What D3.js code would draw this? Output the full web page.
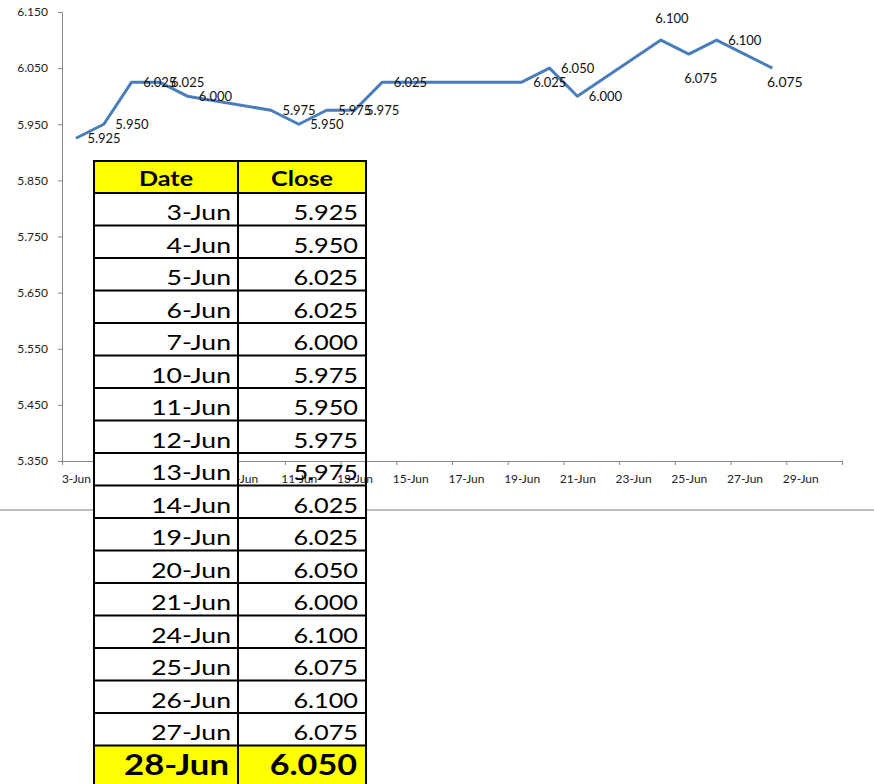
<!DOCTYPE html>
<html>
<head>
<meta charset="utf-8">
<script src="https://cdn.jsdelivr.net/npm/d3@7"></script>
<style>
	body { margin: 0; background: #fff; }
	svg { display: block; font-family: Lato, "Open Sans", sans-serif; }
</style>
</head>
<body>
<script>
// Closing prices, one per trading day in June
var dates = ["3-Jun", "4-Jun", "5-Jun", "6-Jun", "7-Jun", "10-Jun", "11-Jun", "12-Jun", "13-Jun",
	"14-Jun", "19-Jun", "20-Jun", "21-Jun", "24-Jun", "25-Jun", "26-Jun", "27-Jun", "28-Jun"];
var closes = [5.925, 5.950, 6.025, 6.025, 6.000, 5.975, 5.950, 5.975, 5.975,
	6.025, 6.025, 6.050, 6.000, 6.100, 6.075, 6.100, 6.075, 6.050];
// labels as printed next to the points (27-Jun has none)
var pointLabels = ["5.925", "5.950", "6.025", "6.025", "6.000", "5.975", "5.950", "5.975", "5.975",
	"6.025", "6.025", "6.050", "6.000", "6.100", "6.075", "6.100", "", "6.075"];
var labelSpots = ["right", "right", "right", "right", "right", "right", "right", "right", "right",
	"right", "right", "right", "right", "above", "below", "right", "none", "under"];
var yTicks = [5.350, 5.450, 5.550, 5.650, 5.750, 5.850, 5.950, 6.050, 6.150];
var xTickLabels = ["3-Jun", "5-Jun", "7-Jun", "9-Jun", "11-Jun", "13-Jun", "15-Jun",
	"17-Jun", "19-Jun", "21-Jun", "23-Jun", "25-Jun", "27-Jun", "29-Jun"];
var headers = ["Date", "Close"];

var width = 874;
var height = 784;
var parseDay = d3.timeParse("%d-%b-%Y");
function toDate(s) { return parseDay(s + "-2013"); }

var svg = d3.select("body")
			.append("svg")
			.attr("width", width)
			.attr("height", height);

var x = d3.scaleTime()
			.domain([d3.timeHour.offset(toDate("3-Jun"), -12), d3.timeHour.offset(toDate("30-Jun"), 12)])
			.range([62, 842]);
var y = d3.scaleLinear()
			.domain([5.35, 6.15])
			.range([461, 12]);

var points = dates.map(function(d, i) {
	return { date: toDate(d), close: closes[i], label: pointLabels[i], spot: labelSpots[i] };
});

// sheet border line sits under everything
svg.append("line")
		.attr("x1", 0).attr("x2", width)
		.attr("y1", 510).attr("y2", 510)
		.attr("stroke", "#a6a6a6")
		.attr("stroke-width", 1.5);

var cols = [94, 238, 366];
var headerTop = 161, headerH = 32, rowH = 32.5, lastH = 42;
function rowTop(i) { return headerTop + headerH + i * rowH; }
function rowHeight(i) { return i == dates.length - 1 ? lastH : rowH; }
var yellow = "#ffff00";

// Close column cells lie below the chart
svg.append("rect")
		.attr("x", cols[1]).attr("y", headerTop)
		.attr("width", cols[2] - cols[1]).attr("height", rowTop(dates.length - 1) + lastH - headerTop)
		.attr("fill", "#fff");

// ---- chart ----
var chart = svg.append("g");

// major ticks fall between days, every 2 days
var tickDates = d3.range(0, 15).map(function(k) { return d3.timeHour.offset(x.domain()[0], 48 * k); });
chart.append("g")
		.attr("transform", "translate(0,461)")
		.call(d3.axisBottom(x).tickValues(tickDates).tickSize(4).tickFormat(""));
var xLabels = chart.append("g")
		.attr("transform", "translate(0,461)")
		.call(d3.axisBottom(x).tickValues(xTickLabels.map(toDate)).tickSize(0).tickPadding(13)
			.tickFormat(function(d, i) { return xTickLabels[i]; }));
xLabels.select(".domain").remove();

chart.append("g")
		.attr("transform", "translate(62,0)")
		.call(d3.axisLeft(y).tickValues(yTicks).tickSize(4).tickPadding(10).tickFormat(d3.format(".3f")));

chart.selectAll(".domain, .tick line").attr("stroke", "#868686");
chart.selectAll(".tick text")
		.attr("fill", "#222")
		.attr("font-family", "Lato, sans-serif")
		.attr("font-size", 12);

var line = d3.line()
		.x(function(d) { return x(d.date); })
		.y(function(d) { return y(d.close); });

chart.append("path")
		.datum(points)
		.attr("d", line)
		.attr("fill", "none")
		.attr("stroke", "#4a7ebb")
		.attr("stroke-width", 3)
		.attr("stroke-linejoin", "round");

// offsets for each label placement: dx, dy, anchor, size
var spotStyle = {
	right: [11.5, 0, "start", 13],
	above: [11, -22, "middle", 13],
	below: [12, 24, "middle", 13],
	under: [12.5, 14, "middle", 14]
};
chart.selectAll(".point-label")
		.data(points.filter(function(d) { return d.spot != "none"; }))
		.enter()
		.append("text")
		.attr("class", "point-label")
		.attr("x", function(d) { return x(d.date) + spotStyle[d.spot][0]; })
		.attr("y", function(d) { return y(d.close) + spotStyle[d.spot][1]; })
		.attr("dy", "0.35em")
		.attr("text-anchor", function(d) { return spotStyle[d.spot][2]; })
		.attr("font-size", function(d) { return spotStyle[d.spot][3]; })
		.attr("fill", "#111")
		.text(function(d) { return d.label; });

// ---- table on top ----
var grid = svg.append("g");

// Date column covers the chart
grid.selectAll(".date-cell")
		.data(dates)
		.enter()
		.append("rect")
		.attr("x", cols[0]).attr("y", function(d, i) { return rowTop(i); })
		.attr("width", cols[1] - cols[0]).attr("height", function(d, i) { return rowHeight(i); })
		.attr("fill", "#fff");

// yellow header and last row
[[headerTop, headerH], [rowTop(dates.length - 1), lastH]].forEach(function(r) {
	grid.append("rect")
			.attr("x", cols[0]).attr("y", r[0])
			.attr("width", cols[2] - cols[0]).attr("height", r[1])
			.attr("fill", yellow);
});

headers.forEach(function(h, c) {
	grid.append("text")
			.attr("transform", "translate(" + (cols[c] + cols[c + 1]) / 2 + "," + (headerTop + 25) + ") scale(1.2,1)")
			.attr("text-anchor", "middle")
			.attr("font-weight", "bold")
			.attr("font-size", 21)
			.attr("fill", "#000")
			.text(h);
});

var closeFormat = d3.format(".3f");
dates.forEach(function(d, i) {
	var last = i == dates.length - 1;
	var base = rowTop(i) + (last ? 29 : 27);
	var cells = [d, closeFormat(closes[i])];
	var rightEdge = last ? [229, 357] : [231, 358];
	var stretch = last ? [1.24, 1.22] : [1.21, 1.15];
	cells.forEach(function(t, c) {
		grid.append("text")
				.attr("transform", "translate(" + rightEdge[c] + "," + base + ") scale(" + stretch[c] + ",1)")
				.attr("text-anchor", "end")
				.attr("font-weight", last ? "bold" : "normal")
				.attr("font-size", last ? 28 : 22)
				.attr("fill", "#000")
				.text(t);
	});
});

// cell borders
var edges = [headerTop, headerTop + headerH];
dates.forEach(function(d, i) { edges.push(rowTop(i) + rowHeight(i)); });
grid.selectAll(".hline")
		.data(edges)
		.enter()
		.append("line")
		.attr("x1", cols[0] - 1).attr("x2", cols[2] + 1)
		.attr("y1", function(d) { return d; }).attr("y2", function(d) { return d; })
		.attr("stroke", "#000").attr("stroke-width", 2);
grid.selectAll(".vline")
		.data(cols)
		.enter()
		.append("line")
		.attr("x1", function(d) { return d; }).attr("x2", function(d) { return d; })
		.attr("y1", headerTop - 1).attr("y2", edges[edges.length - 1])
		.attr("stroke", "#000").attr("stroke-width", 2);
</script>
</body>
</html>
